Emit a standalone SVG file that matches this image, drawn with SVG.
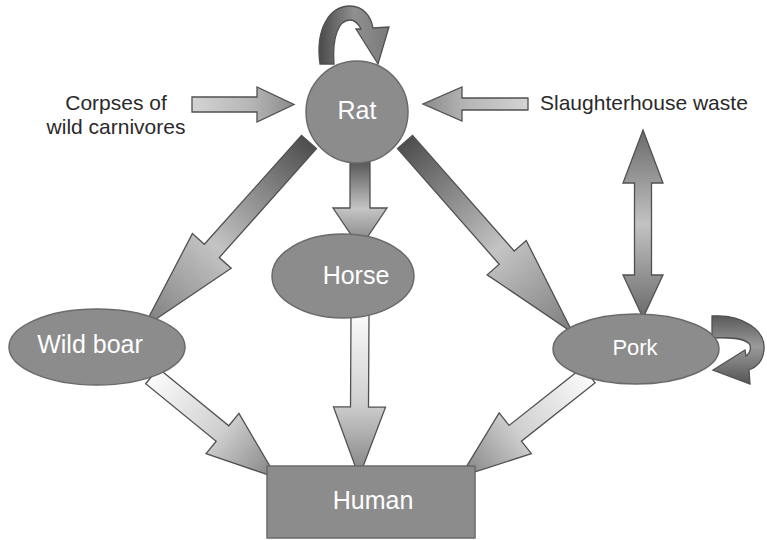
<svg xmlns="http://www.w3.org/2000/svg" width="767" height="540" viewBox="0 0 767 540">
<style>
.node{fill:#8c8c8c;stroke:#6a6a6a;stroke-width:1.5}
.lbl{font-family:"Liberation Sans",Arial,sans-serif;fill:#ffffff;text-anchor:middle}
.side{font-family:"Liberation Sans",Arial,sans-serif;fill:#2a2a2a;font-size:21px}
.arr{stroke:#505050;stroke-width:1.3;stroke-linejoin:miter}
</style>
<defs>
<linearGradient id="gDark" x1="0" y1="0" x2="1" y2="0">
<stop offset="0" stop-color="#4e4e4e"/>
<stop offset="0.56" stop-color="#c4c4c4"/>
<stop offset="1" stop-color="#7c7c7c"/>
</linearGradient>
<linearGradient id="gLight" x1="0" y1="0" x2="1" y2="0">
<stop offset="0" stop-color="#fbfbfb"/>
<stop offset="0.55" stop-color="#cfcfcf"/>
<stop offset="1" stop-color="#808080"/>
</linearGradient>
<linearGradient id="gSide" x1="0" y1="0" x2="1" y2="0">
<stop offset="0" stop-color="#d4d4d4"/>
<stop offset="0.6" stop-color="#b4b4b4"/>
<stop offset="1" stop-color="#8a8a8a"/>
</linearGradient>
<linearGradient id="gDbl" x1="0" y1="0" x2="0" y2="1">
<stop offset="0" stop-color="#6a6a6a"/>
<stop offset="0.5" stop-color="#c2c2c2"/>
<stop offset="1" stop-color="#6a6a6a"/>
</linearGradient>
<linearGradient id="gLoop" x1="0" y1="0" x2="1" y2="0">
<stop offset="0" stop-color="#4a4a4a"/>
<stop offset="0.5" stop-color="#8f8f8f"/>
<stop offset="1" stop-color="#7a7a7a"/>
</linearGradient>
<linearGradient id="gLoop2" x1="0" y1="0" x2="0" y2="1">
<stop offset="0" stop-color="#5a5a5a"/>
<stop offset="0.45" stop-color="#9a9a9a"/>
<stop offset="1" stop-color="#555555"/>
</linearGradient>
</defs>

<g id="connectors">
<!-- Rat -> Wild boar -->
<polygon class="arr" fill="url(#gDark)" transform="translate(309,142) rotate(131.74)" points="0,-10 146,-10 146,-26 249,0 146,26 146,10 0,10"/>
<!-- Rat -> Pork -->
<polygon class="arr" fill="url(#gDark)" transform="translate(405,142) rotate(48.67)" points="0,-10 154,-10 154,-26 254,0 154,26 154,10 0,10"/>
<!-- Rat -> Horse -->
<polygon class="arr" fill="url(#gDark)" transform="translate(360,158) rotate(90)" points="0,-10 50,-10 50,-27 90,0 50,27 50,10 0,10"/>
<!-- Horse -> Human -->
<polygon class="arr" fill="url(#gLight)" transform="translate(360,313) rotate(90.3)" points="0,-9 94,-9 94,-26 164,0 94,26 94,9 0,9"/>
<!-- Wild boar -> Human -->
<polygon class="arr" fill="url(#gLight)" transform="translate(152,376) rotate(39.21)" points="0,-10 91,-10 91,-26 161,0 91,26 91,10 0,10"/>
<!-- Pork -> Human -->
<polygon class="arr" fill="url(#gLight)" transform="translate(589,375) rotate(141.67)" points="0,-10 94,-10 94,-26 164,0 94,26 94,10 0,10"/>
<!-- Corpses -> Rat -->
<polygon class="arr" fill="url(#gSide)" transform="translate(192,104.5)" points="0,-7.5 65,-7.5 65,-17.5 102,0 65,17.5 65,7.5 0,7.5"/>
<!-- Slaughterhouse -> Rat -->
<polygon class="arr" fill="url(#gSide)" transform="translate(528,104) rotate(180)" points="0,-6 66,-6 66,-17 105,0 66,17 66,6 0,6"/>
<!-- Slaughterhouse <-> Pork -->
<polygon class="arr" fill="url(#gDbl)" points="643,130 663,183 651.5,183 651.5,275 663,275 643,318 623,275 634.5,275 634.5,183 623,183"/>
<!-- Rat self-loop -->
<path class="arr" fill="url(#gLoop)" d="M320,64 C315,28 330,6 350,6 C363,6 371,16 373,28 L389,27 L378,64 L356,29 L361,29 C358,23 355,20 350,20 C339,20 332,36 334,64 Z"/>
<!-- Pork self-loop -->
<path class="arr" fill="url(#gLoop2)" d="M712,316 C742,314 766,330 764,350 C763,361 757,367 749,370 L750,384 L713,370 L745,350 L746,356 C750,353 751,349 750,345 C746,338 732,337 712,338 Z"/>
</g>

<g id="rat">
<circle class="node" cx="357" cy="112" r="51"/>
<text class="lbl" x="357" y="119" font-size="25">Rat</text>
</g>
<g id="horse">
<ellipse class="node" cx="343" cy="276" rx="71" ry="42"/>
<text class="lbl" x="356" y="284" font-size="25">Horse</text>
</g>
<g id="wildboar">
<ellipse class="node" cx="97" cy="347" rx="88" ry="38"/>
<text class="lbl" x="90" y="353" font-size="25">Wild boar</text>
</g>
<g id="pork">
<ellipse class="node" cx="636" cy="349" rx="83" ry="35"/>
<text class="lbl" x="635" y="355" font-size="22">Pork</text>
</g>
<g id="human">
<rect class="node" x="267" y="466" width="208" height="72"/>
<text class="lbl" x="373" y="509" font-size="25">Human</text>
</g>
<g id="corpses">
<text class="side" x="116" y="110" text-anchor="middle">Corpses of</text>
<text class="side" x="116" y="134" text-anchor="middle">wild carnivores</text>
</g>
<g id="slaughterhouse">
<text class="side" x="540" y="110" font-size="22">Slaughterhouse waste</text>
</g>
</svg>
